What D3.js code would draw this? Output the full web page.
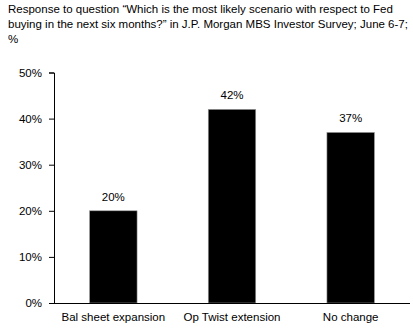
<!DOCTYPE html>
<html>
<head>
<meta charset="utf-8">
<script src="https://cdn.jsdelivr.net/npm/d3@7"></script>
<style>
  html, body { margin: 0; padding: 0; background: #fff; }
  svg { display: block; font-family: "Liberation Sans", Arial, sans-serif; }
</style>
</head>
<body>
<svg id="chart" width="413" height="329"></svg>
<script>
// Survey responses on the likely path of Fed buying
const categories = ["Bal sheet expansion", "Op Twist extension", "No change"];
const shares = [20, 42, 37];
const yTicks = [0, 10, 20, 30, 40, 50];
const titleLines = [
  "Response to question \u201CWhich is the most likely scenario with respect to Fed",
  "buying in the next six months?\u201D in J.P. Morgan MBS Investor Survey; June 6-7;",
  "%"
];

const FS = 11.5;
const svg = d3.select("#chart");
const margin = { left: 54, right: 3, top: 72.5, bottom: 26 };
const W = 413, H = 329;

const x = d3.scaleBand()
  .domain(categories)
  .range([margin.left, W - margin.right])
  .paddingInner(0.6)
  .paddingOuter(0.3);

const y = d3.scaleLinear()
  .domain([0, 50])
  .range([H - margin.bottom, margin.top]);

// Title block
const title = svg.append("g").attr("font-size", FS).attr("fill", "#000");
titleLines.forEach((t, i) => {
  title.append("text")
    .attr("x", 8)
    .attr("y", 13 + i * 15)
    .text(t);
});

// Bars
svg.append("g")
  .selectAll("rect")
  .data(shares)
  .join("rect")
  .attr("x", (d, i) => x(categories[i]))
  .attr("width", x.bandwidth())
  .attr("y", d => y(d))
  .attr("height", d => y(0) - y(d))
  .attr("fill", "#000")
  .attr("stroke", "#999")
  .attr("stroke-width", 0.6);

// Value labels
svg.append("g")
  .selectAll("text")
  .data(shares)
  .join("text")
  .attr("x", (d, i) => x(categories[i]) + x.bandwidth() / 2)
  .attr("y", d => y(d) - 10)
  .attr("text-anchor", "middle")
  .attr("font-size", FS)
  .text(d => d + "%");

// Y axis
const yAxis = d3.axisLeft(y)
  .tickValues(yTicks)
  .tickFormat(d => d + "%")
  .tickSize(5)
  .tickPadding(7);
const gy = svg.append("g")
  .attr("transform", `translate(${margin.left},0)`)
  .call(yAxis);
gy.selectAll("text").attr("font-size", FS).attr("fill", "#000").style("font-family", "'Liberation Sans', Arial, sans-serif");
gy.selectAll("line, path").attr("stroke", "#000");

// X axis
const xAxis = d3.axisBottom(x).tickSize(0).tickPadding(10);
const gx = svg.append("g")
  .attr("transform", `translate(0,${y(0)})`)
  .call(xAxis);
gx.select(".domain").attr("d", `M${margin.left},0.5H${W - margin.right}`).attr("stroke", "#000");
gx.selectAll("text").attr("font-size", FS).attr("fill", "#000").style("font-family", "'Liberation Sans', Arial, sans-serif");
</script>
</body>
</html>
